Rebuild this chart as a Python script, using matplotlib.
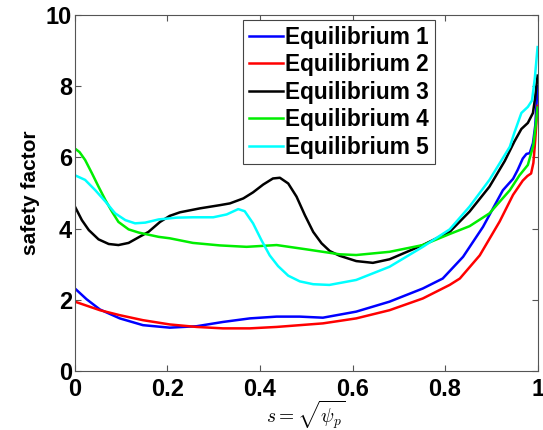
import numpy as np
import matplotlib
matplotlib.use("Agg")
import matplotlib.pyplot as plt

plt.rcParams['font.family'] = ['Liberation Sans', 'DejaVu Sans']
plt.rcParams['mathtext.fontset'] = 'cm'

# values
s1 = [0.0, 0.025, 0.054, 0.097, 0.147, 0.205, 0.263, 0.32, 0.378, 0.436, 0.486, 0.536,
      0.608, 0.68, 0.752, 0.795, 0.839, 0.882, 0.925, 0.947, 0.957, 0.968, 0.976, 0.983,
      0.99, 0.995, 1.0]
q1 = [2.32, 2.02, 1.73, 1.48, 1.29, 1.22, 1.26, 1.38, 1.48, 1.53, 1.53, 1.50,
      1.67, 1.95, 2.32, 2.60, 3.21, 4.05, 5.08, 5.40, 5.65, 5.97, 6.10, 6.12,
      6.40, 6.90, 8.0]

s2 = [0.0, 0.054, 0.097, 0.147, 0.205, 0.263, 0.32, 0.378, 0.436, 0.486, 0.536, 0.608,
      0.68, 0.752, 0.81, 0.832, 0.875, 0.918, 0.947, 0.968, 0.978, 0.986, 0.991, 0.995, 1.0]
q2 = [1.95, 1.71, 1.57, 1.43, 1.31, 1.24, 1.20, 1.20, 1.24, 1.29, 1.34, 1.48,
      1.71, 2.04, 2.42, 2.60, 3.25, 4.20, 4.95, 5.35, 5.48, 5.55, 5.85, 6.50, 7.45]

s3 = [0.0, 0.015, 0.03, 0.051, 0.073, 0.094, 0.116, 0.138, 0.159, 0.184, 0.205, 0.227,
      0.27, 0.313, 0.335, 0.364, 0.385, 0.407, 0.428, 0.443, 0.461, 0.479, 0.497, 0.515,
      0.533, 0.551, 0.572, 0.608, 0.644, 0.68, 0.752, 0.81, 0.853, 0.896, 0.929, 0.95,
      0.965, 0.979, 0.99, 0.995, 1.0]
q3 = [4.62, 4.24, 3.96, 3.70, 3.57, 3.54, 3.60, 3.76, 3.91, 4.19, 4.36, 4.46,
      4.57, 4.66, 4.71, 4.85, 5.02, 5.24, 5.41, 5.43, 5.27, 4.90, 4.38, 3.91,
      3.59, 3.37, 3.24, 3.09, 3.04, 3.14, 3.54, 3.91, 4.48, 5.18, 5.90, 6.45,
      6.80, 6.97, 7.25, 7.70, 8.3]

s4 = [0.0, 0.01, 0.022, 0.037, 0.051, 0.066, 0.08, 0.094, 0.116, 0.138, 0.181, 0.205,
      0.255, 0.313, 0.371, 0.436, 0.5, 0.536, 0.572, 0.608, 0.68, 0.752, 0.81, 0.853,
      0.896, 0.94, 0.961, 0.979, 0.991, 0.996, 1.0]
q4 = [6.25, 6.15, 5.93, 5.55, 5.18, 4.80, 4.48, 4.19, 3.98, 3.89, 3.77, 3.73,
      3.60, 3.53, 3.49, 3.54, 3.42, 3.35, 3.28, 3.26, 3.35, 3.54, 3.85, 4.07,
      4.43, 5.08, 5.50, 5.79, 6.35, 6.90, 7.40]

s5 = [0.0, 0.022, 0.044, 0.066, 0.087, 0.109, 0.13, 0.152, 0.181, 0.22, 0.255, 0.299,
      0.328, 0.353, 0.367, 0.385, 0.403, 0.421, 0.439, 0.461, 0.486, 0.515, 0.55, 0.608,
      0.68, 0.752, 0.81, 0.853, 0.896, 0.94, 0.95, 0.965, 0.979, 0.988, 0.994, 1.0]
q5 = [5.50, 5.37, 5.08, 4.76, 4.43, 4.24, 4.15, 4.17, 4.26, 4.31, 4.32, 4.32,
      4.40, 4.55, 4.49, 4.15, 3.68, 3.25, 2.95, 2.68, 2.52, 2.44, 2.42, 2.56,
      2.93, 3.49, 3.98, 4.62, 5.37, 6.30, 6.70, 7.25, 7.42, 7.60, 8.22, 9.1]

labels = ['Equilibrium 1', 'Equilibrium 2', 'Equilibrium 3', 'Equilibrium 4', 'Equilibrium 5']
colors = ['#0000ff', '#ff0000', '#000000', '#00ee00', '#00ffff']

fig = plt.figure(figsize=(5.43, 4.30), dpi=100)
ax = fig.add_axes([0.138, 0.137, 0.852, 0.828])

for s, q, lab, c in zip([s1, s2, s3, s4, s5], [q1, q2, q3, q4, q5], labels, colors):
    ax.plot(s, q, color=c, lw=1.8, label=lab, solid_joinstyle='round')

ax.set_xlim(0, 1)
ax.set_ylim(0, 10)
ax.set_xticks([0, 0.2, 0.4, 0.6, 0.8, 1])
ax.set_xticklabels(['0', '0.2', '0.4', '0.6', '0.8', '1'])
ax.set_yticks([0, 2, 4, 6, 8, 10])
ax.tick_params(direction='in', top=True, right=True, length=4, width=0.8,
               color='#555555', labelsize=17)
ax.tick_params(axis='y', pad=2)
ax.tick_params(axis='x', pad=5)
for lbl in ax.get_xticklabels() + ax.get_yticklabels():
    lbl.set_fontweight('bold')
for sp in ax.spines.values():
    sp.set_color('#555555')
    sp.set_linewidth(0.8)

ax.set_ylabel('safety factor', fontsize=15, fontweight='bold', labelpad=4)
xl = ax.set_xlabel(r'$s=\sqrt{\psi_p}$', fontsize=14)
xl.set_verticalalignment('baseline')
ax.xaxis.set_label_coords(0.5, -0.145)

leg = ax.legend(loc='upper right', bbox_to_anchor=(0.778, 0.986),
                prop={'weight': 'bold', 'size': 16.3}, handlelength=1.5,
                handletextpad=0.1, labelspacing=0.2, borderpad=0.25,
                borderaxespad=0, fancybox=False, framealpha=1)
leg.get_frame().set_edgecolor('#444444')
leg.get_frame().set_linewidth(0.8)

fig.savefig('out.png', dpi=100)
